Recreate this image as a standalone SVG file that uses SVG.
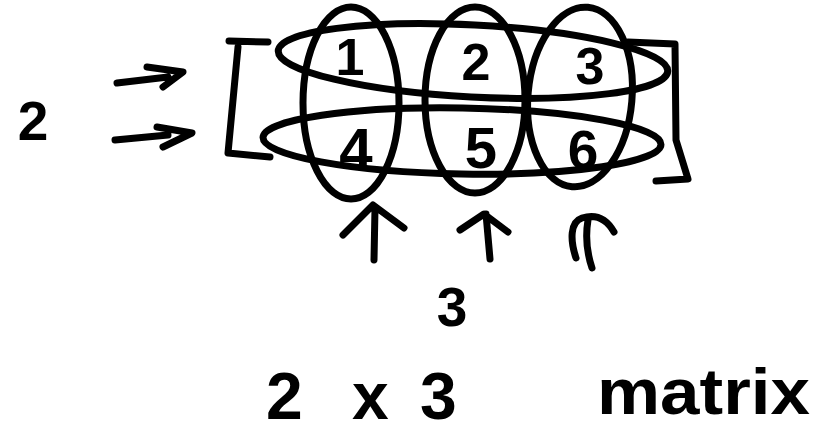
<svg xmlns="http://www.w3.org/2000/svg" width="822" height="436" viewBox="0 0 822 436">
<style>
.s{fill:none;stroke:#000;stroke-width:7;stroke-linecap:round;stroke-linejoin:round}
.t{font-family:"Liberation Sans",Arial,sans-serif;font-weight:bold;fill:#000}
</style>
<rect width="822" height="436" fill="#fff"/>
<g id="row-count"><text class="t" x="33" y="140" font-size="55" text-anchor="middle">2</text></g>
<g id="matrix">
<path class="s" d="M229,41 L268,42 M238,47 L228,153 L270,157"/>
<path class="s" d="M628,42 L675,44 L676,140 L688,179 L656,181"/>
</g>
<g id="cell-1"><text class="t" x="350" y="75" font-size="52" text-anchor="middle">1</text></g>
<g id="cell-2"><text class="t" x="476" y="80" font-size="52" text-anchor="middle">2</text></g>
<g id="cell-3"><text class="t" x="590" y="84" font-size="52" text-anchor="middle">3</text></g>
<g id="cell-4"><text class="t" x="356" y="170" font-size="60" text-anchor="middle">4</text></g>
<g id="cell-5"><text class="t" x="481" y="168" font-size="58" text-anchor="middle">5</text></g>
<g id="cell-6"><text class="t" x="583" y="169" font-size="55" text-anchor="middle">6</text></g>
<g id="groupings">
<ellipse class="s" cx="473" cy="61" rx="195" ry="36" transform="rotate(3 473 61)"/>
<ellipse class="s" cx="462" cy="141" rx="199" ry="33" transform="rotate(1 462 141)"/>
<ellipse class="s" cx="351" cy="103" rx="48" ry="96"/>
<ellipse class="s" cx="475" cy="100" rx="50" ry="93"/>
<ellipse class="s" cx="580" cy="97" rx="52" ry="90" transform="rotate(5 580 97)"/>
</g>
<g id="connectors">
<path class="s" d="M117,83 L168,77 M147,67 L183,72 L163,87"/>
<path class="s" d="M115,140 L168,135 M157,127 L192,133 L163,147"/>
<path class="s" d="M374,260 L375,208 M343,235 L373,205 L404,228"/>
<path class="s" d="M490,259 L486,214 M460,230 L484,214 L508,232"/>
<path class="s" d="M576,258 C570,240 570,222 582,218 C595,214 606,218 614,232 M592,268 C586,250 586,232 588,220"/>
</g>
<g id="col-count"><text class="t" x="452" y="326" font-size="55" text-anchor="middle">3</text></g>
<g id="dimension"><text class="t" font-size="66" y="419"><tspan x="266">2</tspan><tspan x="330"> </tspan><tspan x="352">x</tspan><tspan x="420">3</tspan></text></g>
<g id="label"><text class="t" x="597" y="414" font-size="64" textLength="213" lengthAdjust="spacingAndGlyphs">matrix</text></g>
</svg>
